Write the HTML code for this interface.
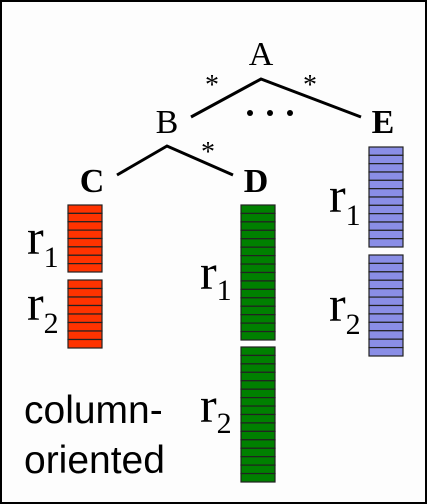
<!DOCTYPE html>
<html><head><meta charset="utf-8"><style>
html,body{margin:0;padding:0;background:#fff}
svg{display:block}
.serif{font-family:"Liberation Serif","Times New Roman",serif}
.sans{font-family:"Liberation Sans",Arial,sans-serif}
</style></head><body>
<svg width="427" height="504" viewBox="0 0 427 504" xmlns="http://www.w3.org/2000/svg">
<rect x="1" y="1" width="425" height="502" fill="#fdfdfd" stroke="#000" stroke-width="2"/>
<g class="serif" fill="#000">
<text x="261" y="65" style="font-size:34px" text-anchor="middle">A</text>
<text x="167" y="133" style="font-size:34px" text-anchor="middle">B</text>
<text x="383" y="133" style="font-size:34px;font-weight:bold" text-anchor="middle">E</text>
<text x="92" y="192" style="font-size:34px;font-weight:bold" text-anchor="middle">C</text>
<text x="256" y="192" style="font-size:34px;font-weight:bold" text-anchor="middle">D</text>
<text x="212" y="94" style="font-size:28px" text-anchor="middle">*</text>
<text x="310" y="94" style="font-size:28px" text-anchor="middle">*</text>
<text x="208" y="161" style="font-size:28px" text-anchor="middle">*</text>
</g>
<g fill="#000">
<circle cx="250" cy="113" r="3"/><circle cx="270" cy="113" r="3"/><circle cx="290" cy="113" r="3"/>
</g>
<g stroke="#000" stroke-width="3" fill="none">
<polyline points="191,117 261,79 361,117"/>
<polyline points="117,175 167,146 233,175"/>
</g>
<g id="blocks"></g>
<g class="serif" fill="#000" style="font-size:50px">
<text x="27" y="254">r<tspan style="font-size:30px" dy="13">1</tspan></text>
<text x="27" y="320">r<tspan style="font-size:30px" dy="13">2</tspan></text>
<text x="200" y="289">r<tspan style="font-size:30px" dy="11">1</tspan></text>
<text x="200" y="422">r<tspan style="font-size:30px" dy="11">2</tspan></text>
<text x="329" y="212">r<tspan style="font-size:30px" dy="13">1</tspan></text>
<text x="329" y="321">r<tspan style="font-size:30px" dy="13">2</tspan></text>
</g>
<g class="sans" fill="#000" style="font-size:39px">
<text x="24" y="423">column-</text>
<text x="24" y="473">oriented</text>
</g>
</svg>
<script>
const blockNames=['c-r1','c-r2','d-r1','d-r2','e-r1','e-r2'];
const blockCells=[8,8,16,16,12,12];
const blockX=[68,68,241,241,369,369];
const blockTop=[205,280,205,347,147,255];
const blockBottom=[272,348,340,482,247,356];
const blockColor=['#ff3300','#ff3300','#008000','#008000','#8a8ee6','#8a8ee6'];
const g=document.getElementById('blocks');
const NS='http://www.w3.org/2000/svg';
for(let i=0;i<blockNames.length;i++){
  const h=(blockBottom[i]-blockTop[i])/blockCells[i];
  const grp=document.createElementNS(NS,'g');
  
  
  for(let j=0;j<blockCells[i];j++){
    const r=document.createElementNS(NS,'rect');
    r.setAttribute('x',blockX[i]);r.setAttribute('y',blockTop[i]+j*h);
    r.setAttribute('width',34);r.setAttribute('height',h);
    r.setAttribute('fill',blockColor[i]);r.setAttribute('stroke','#222');r.setAttribute('stroke-width',1.2);
    
    
    grp.appendChild(r);
  }
  g.appendChild(grp);
}
</script>
</body></html>
